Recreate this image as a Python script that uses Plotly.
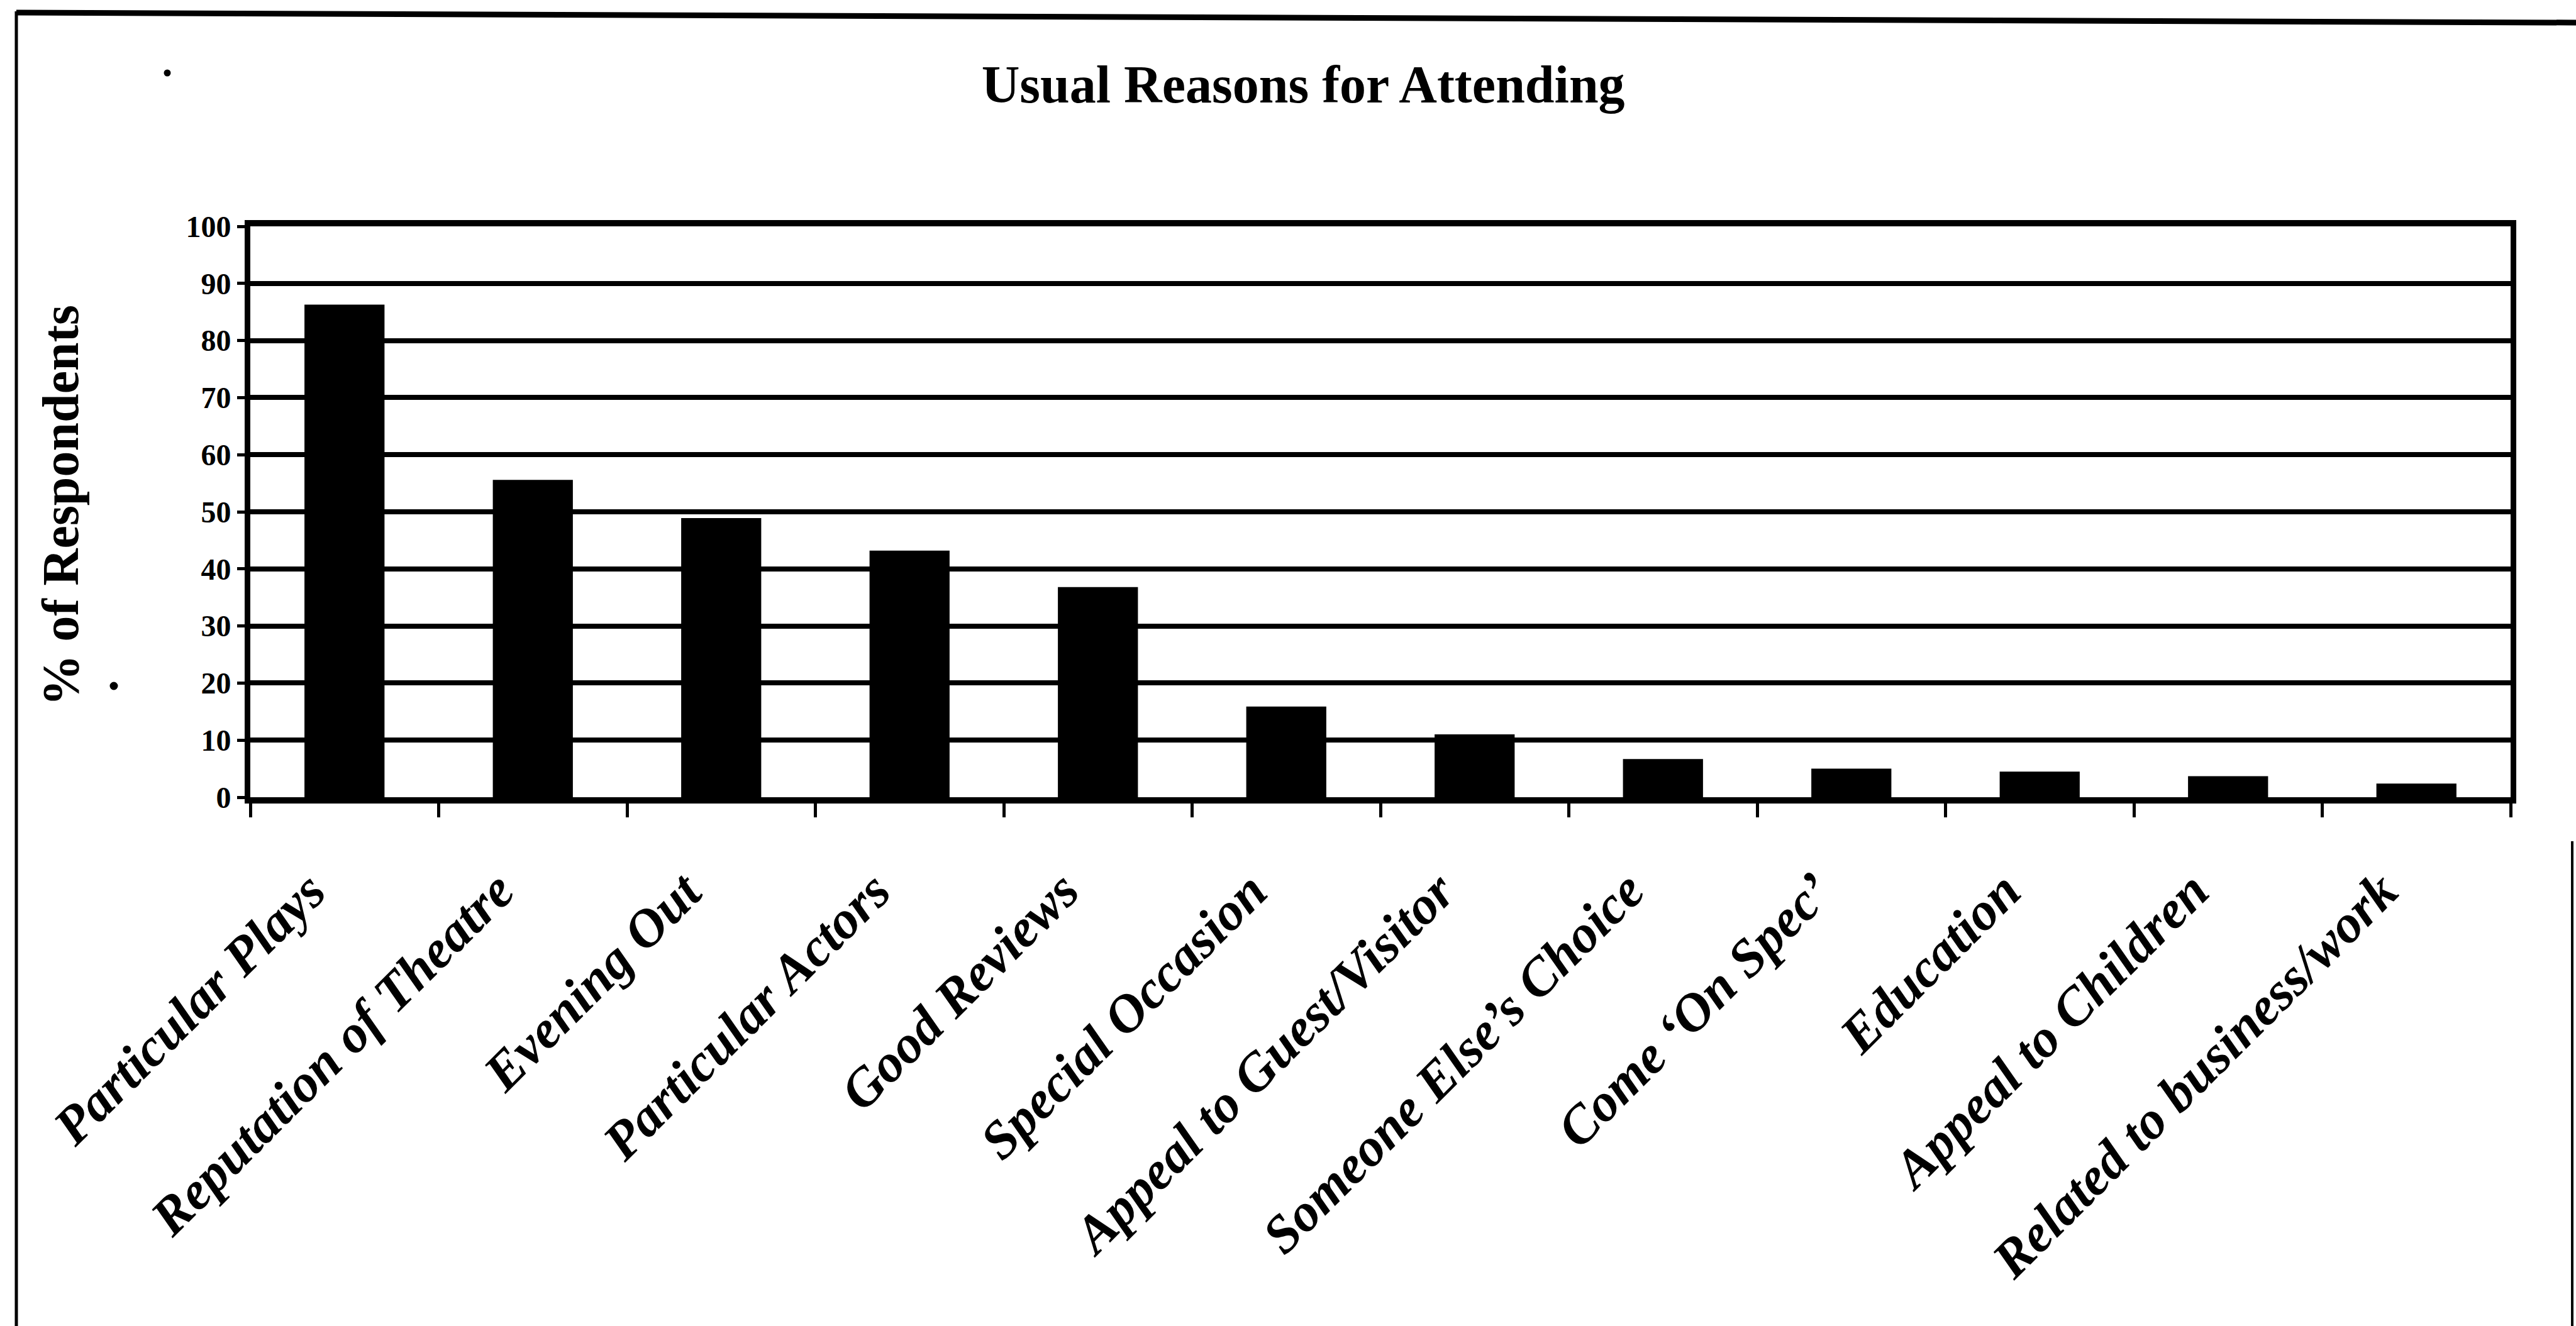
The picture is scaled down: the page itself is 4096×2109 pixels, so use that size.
import plotly.graph_objects as go

# Survey results: usual reasons given for attending the theatre
reasons = [
    "Particular Plays",
    "Reputation of Theatre",
    "Evening Out",
    "Particular Actors",
    "Good Reviews",
    "Special Occasion",
    "Appeal to Guest/Visitor",
    "Someone Else\u2019s Choice",
    "Come \u2018On Spec\u2019",
    "Education",
    "Appeal to Children",
    "Related to business/work",
]
pct_respondents = [86.3, 55.6, 48.9, 43.2, 36.8, 15.9, 11.0, 6.7, 5.0, 4.5, 3.7, 2.4]
y_ticks = [0, 10, 20, 30, 40, 50, 60, 70, 80, 90, 100]

W, H = 4096, 2109
ML, MR, MT, MB = 398, 104, 360, 841
PW, PH = W - ML - MR, H - MT - MB


def px_x(px):
    return (px - ML) / PW


def px_y(py):
    return (H - MB - py) / PH


fig = go.Figure(
    go.Bar(
        x=reasons,
        y=pct_respondents,
        marker=dict(color="black", line=dict(width=0)),
        hoverinfo="x+y",
    )
)

serif = "Liberation Serif"

fig.update_layout(
    width=W,
    height=H,
    margin=dict(l=ML, r=MR, t=MT, b=MB, pad=0),
    paper_bgcolor="white",
    plot_bgcolor="white",
    showlegend=False,
    bargap=0.575,
    title=dict(
        text="Usual Reasons for Attending",
        font=dict(family=serif, size=84, color="black", weight="bold"),
        xref="container",
        x=0.5059,
        xanchor="center",
        yref="container",
        y=1 - 134 / H,
        yanchor="middle",
    ),
)

fig.update_xaxes(
    type="category",
    range=[-0.5, len(reasons) - 0.5],
    tickson="boundaries",
    ticks="outside",
    ticklen=22,
    tickwidth=5,
    tickcolor="black",
    showticklabels=False,
    showline=True,
    linewidth=10,
    linecolor="black",
    mirror=True,
    showgrid=False,
    zeroline=False,
)

fig.update_yaxes(
    range=[0, 100],
    tickvals=y_ticks,
    ticktext=[str(v) for v in y_ticks],
    ticks="outside",
    ticklen=12,
    tickwidth=5,
    tickcolor="black",
    tickfont=dict(family=serif, size=48, color="black", weight="bold"),
    showline=True,
    linewidth=9,
    linecolor="black",
    mirror=True,
    showgrid=True,
    gridcolor="black",
    gridwidth=8,
    zeroline=False,
)

# Category labels, slanted under each bar
for name in reasons:
    fig.add_annotation(
        text=name,
        textangle=-45,
        xref="x",
        yref="paper",
        x=name,
        y=px_y(1366),
        xanchor="right",
        yanchor="top",
        xshift=-10,
        showarrow=False,
        font=dict(family=serif, size=85, color="black", weight="bold", style="italic"),
    )

# Y axis title
fig.add_annotation(
    text="% of Respondents",
    textangle=-90,
    xref="paper",
    yref="paper",
    x=px_x(96),
    y=px_y(804),
    xanchor="center",
    yanchor="middle",
    showarrow=False,
    font=dict(family=serif, size=82, color="black", weight="bold"),
)

# Outer frame of the chart page
frame = dict(color="black")
fig.add_shape(type="line", xref="paper", yref="paper",
              x0=px_x(26), y0=px_y(20), x1=px_x(W), y1=px_y(36),
              line=dict(width=9, **frame))
fig.add_shape(type="line", xref="paper", yref="paper",
              x0=px_x(26), y0=px_y(18), x1=px_x(26), y1=px_y(H),
              line=dict(width=5, **frame))
fig.add_shape(type="line", xref="paper", yref="paper",
              x0=px_x(4090), y0=px_y(1338), x1=px_x(4090), y1=px_y(H),
              line=dict(width=4, **frame))

# Small specks on the page
for cx, cy, r in [(266, 116, 5.5), (181, 1091, 6.5)]:
    fig.add_shape(type="circle", xref="paper", yref="paper",
                  x0=px_x(cx - r), x1=px_x(cx + r),
                  y0=px_y(cy + r), y1=px_y(cy - r),
                  fillcolor="black", line=dict(width=0))

fig.write_html("out.html")
